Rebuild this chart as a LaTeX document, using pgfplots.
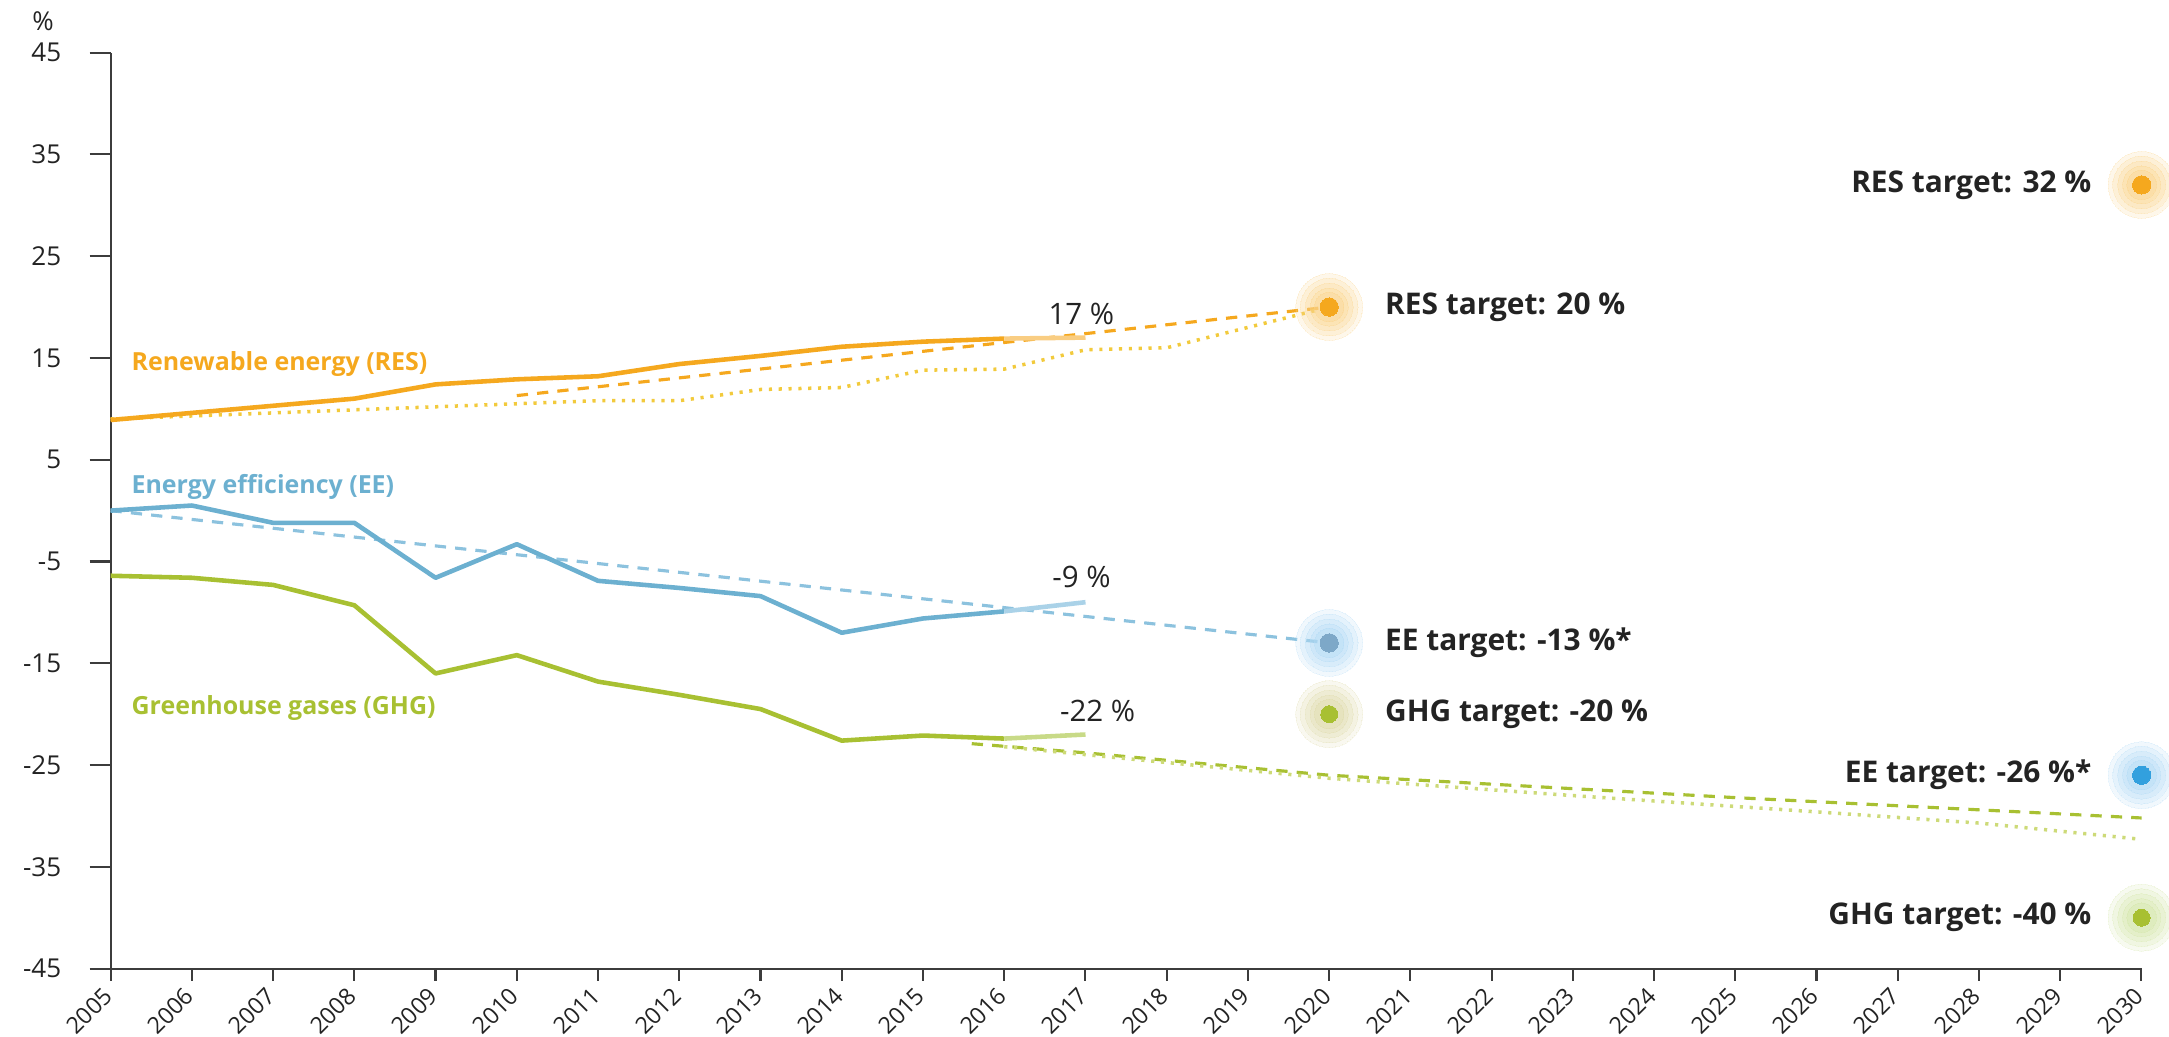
\documentclass[border=0pt]{standalone}
\usepackage{pgfplots}
\pgfplotsset{compat=1.18}
\usepackage{fontspec}
\setmainfont{Open Sans}

% series colours
\definecolor{resc}{RGB}{245,168,30}
\definecolor{resdot}{RGB}{242,202,60}
\definecolor{resproxy}{RGB}{249,205,130}
\definecolor{resglow}{RGB}{250,212,140}
\definecolor{eec}{RGB}{108,176,208}
\definecolor{eedash}{RGB}{140,194,222}
\definecolor{eeproxy}{RGB}{170,210,232}
\definecolor{eedot2020}{RGB}{125,168,200}
\definecolor{eedot2030}{RGB}{50,160,222}
\definecolor{eeglow}{RGB}{178,218,245}
\definecolor{ghgc}{RGB}{168,192,50}
\definecolor{ghgdot}{RGB}{205,218,120}
\definecolor{ghgproxy}{RGB}{200,218,135}
\definecolor{ghgglow}{RGB}{222,218,170}
\definecolor{ghgglow2}{RGB}{212,230,170}
\definecolor{axisgrey}{RGB}{60,60,60}
\definecolor{txt}{RGB}{35,35,35}

\pgfplotsset{
  glow/.style={only marks, mark=*, forget plot, color=#1,
    mark options={line width=0pt}},
}

\newcommand{\tickfont}{\fontsize{7.4}{8}\selectfont}
\newcommand{\yearfont}{\fontsize{6.6}{7}\selectfont}
\newcommand{\lblfont}{\fontsize{7.1}{8}\selectfont\bfseries}
\newcommand{\valfont}{\fontsize{8.4}{9}\selectfont}
\newcommand{\tgtfont}{\fontsize{8.5}{9}\selectfont\bfseries}

\begin{document}
\begin{tikzpicture}
\begin{axis}[
  scale only axis,
  width=203.1mm, height=91.6mm,
  xmin=2005, xmax=2030, ymin=-45, ymax=45,
  axis x line*=bottom, axis y line*=left,
  axis line style={draw=axisgrey, line width=0.6pt, -},
  xtick={2005,...,2030},
  ytick={-45,-35,...,45},
  tick align=outside,
  major tick length=2.1mm,
  tick style={draw=axisgrey, line width=0.6pt},
  xtick style={/pgfplots/major tick length=1.2mm},
  x tick label style={rotate=45, anchor=east, font=\yearfont, text=txt, inner sep=0.8pt},
  y tick label style={font=\tickfont, text=txt, xshift=-1.6mm},
  /pgf/number format/1000 sep={},
  /pgf/number format/assume math mode=true,
  clip=false,
]

% indicative trajectories
\addplot[resc, line width=0.9pt, dash pattern=on 3.2pt off 2.6pt]
  coordinates {(2010,11.3) (2020,20)};
\addplot[resdot, line width=1pt, dash pattern=on 0.9pt off 1.9pt]
  coordinates {(2005,9.0) (2008,9.9) (2010,10.5) (2011,10.8) (2012,10.8)
               (2013,11.9) (2014,12.1) (2015,13.8) (2016,13.9) (2017,15.8)
               (2018,16.0) (2020,20)};
\addplot[eedash, line width=0.9pt, dash pattern=on 3.2pt off 2.6pt]
  coordinates {(2005,0) (2020,-13)};
\addplot[ghgc, line width=0.9pt, dash pattern=on 3.2pt off 2.6pt]
  coordinates {(2015.6,-22.9) (2017,-23.8) (2020,-26.0) (2025,-28.2) (2030,-30.2)};
\addplot[ghgdot, line width=1pt, dash pattern=on 0.9pt off 1.9pt]
  coordinates {(2016,-23.2) (2020,-26.3) (2023,-28.0) (2026,-29.6) (2028,-30.7) (2030,-32.3)};

% observed values
\addplot[resc, line width=1.3pt, line join=round]
  coordinates {(2005,8.9) (2006,9.6) (2007,10.3) (2008,11.0) (2009,12.4) (2010,12.9)
               (2011,13.2) (2012,14.4) (2013,15.2) (2014,16.1) (2015,16.6) (2016,16.9)};
\addplot[resproxy, line width=1.3pt] coordinates {(2016,16.9) (2017,17)};
\addplot[eec, line width=1.3pt, line join=round]
  coordinates {(2005,0) (2006,0.5) (2007,-1.2) (2008,-1.2) (2009,-6.6) (2010,-3.3)
               (2011,-6.9) (2012,-7.6) (2013,-8.4) (2014,-12.0) (2015,-10.6) (2016,-9.9)};
\addplot[eeproxy, line width=1.3pt] coordinates {(2016,-9.9) (2017,-9)};
\addplot[ghgc, line width=1.3pt, line join=round]
  coordinates {(2005,-6.4) (2006,-6.6) (2007,-7.3) (2008,-9.3) (2009,-16.0) (2010,-14.2)
               (2011,-16.8) (2012,-18.1) (2013,-19.5) (2014,-22.6) (2015,-22.1) (2016,-22.4)};
\addplot[ghgproxy, line width=1.3pt] coordinates {(2016,-22.4) (2017,-22)};

% targets: soft halo built from stacked translucent discs, then the dot
\addplot[glow=resglow, mark size=9.5pt, opacity=0.18] coordinates {(2020,20) (2030,32)};
\addplot[glow=resglow, mark size=8.2pt, opacity=0.2] coordinates {(2020,20) (2030,32)};
\addplot[glow=resglow, mark size=6.8pt, opacity=0.24] coordinates {(2020,20) (2030,32)};
\addplot[glow=resglow, mark size=5.4pt, opacity=0.28] coordinates {(2020,20) (2030,32)};
\addplot[glow=resglow, mark size=4.2pt, opacity=0.34] coordinates {(2020,20) (2030,32)};
\addplot[glow=resc, mark size=2.6pt] coordinates {(2020,20) (2030,32)};

\addplot[glow=eeglow, mark size=9.5pt, opacity=0.18] coordinates {(2020,-13) (2030,-26)};
\addplot[glow=eeglow, mark size=8.2pt, opacity=0.2] coordinates {(2020,-13) (2030,-26)};
\addplot[glow=eeglow, mark size=6.8pt, opacity=0.24] coordinates {(2020,-13) (2030,-26)};
\addplot[glow=eeglow, mark size=5.4pt, opacity=0.28] coordinates {(2020,-13) (2030,-26)};
\addplot[glow=eeglow, mark size=4.2pt, opacity=0.34] coordinates {(2020,-13) (2030,-26)};
\addplot[glow=eedot2020, mark size=2.6pt] coordinates {(2020,-13)};
\addplot[glow=eedot2030, mark size=2.6pt] coordinates {(2030,-26)};

\addplot[glow=ghgglow, mark size=9.5pt, opacity=0.18] coordinates {(2020,-20)};
\addplot[glow=ghgglow, mark size=8.2pt, opacity=0.2] coordinates {(2020,-20)};
\addplot[glow=ghgglow, mark size=6.8pt, opacity=0.24] coordinates {(2020,-20)};
\addplot[glow=ghgglow, mark size=5.4pt, opacity=0.28] coordinates {(2020,-20)};
\addplot[glow=ghgglow, mark size=4.2pt, opacity=0.34] coordinates {(2020,-20)};
\addplot[glow=ghgglow2, mark size=9.5pt, opacity=0.18] coordinates {(2030,-40)};
\addplot[glow=ghgglow2, mark size=8.2pt, opacity=0.2] coordinates {(2030,-40)};
\addplot[glow=ghgglow2, mark size=6.8pt, opacity=0.24] coordinates {(2030,-40)};
\addplot[glow=ghgglow2, mark size=5.4pt, opacity=0.28] coordinates {(2030,-40)};
\addplot[glow=ghgglow2, mark size=4.2pt, opacity=0.34] coordinates {(2030,-40)};
\addplot[glow=ghgc, mark size=2.4pt] coordinates {(2020,-20) (2030,-40)};

% unit
\node[font=\tickfont, text=txt] at (axis cs:2004.17,48.1) {\%};

% series names
\node[anchor=west, inner sep=0pt, font=\lblfont, text=resc] at (axis cs:2005.25,14.4) {Renewable energy (RES)};
\node[anchor=west, inner sep=0pt, font=\lblfont, text=eec] at (axis cs:2005.25,2.3) {Energy efficiency (EE)};
\node[anchor=west, inner sep=0pt, font=\lblfont, text=ghgc] at (axis cs:2005.25,-19.4) {Greenhouse gases (GHG)};

% latest values
\node[font=\valfont, text=txt] at (axis cs:2016.95,19.3) {17~\%};
\node[font=\valfont, text=txt] at (axis cs:2016.95,-6.5) {-9~\%};
\node[font=\valfont, text=txt] at (axis cs:2017.15,-19.7) {-22~\%};

% target labels
\node[anchor=west, inner sep=0pt, font=\tgtfont, text=txt] at (axis cs:2020.68,20) {RES target: 20~\%};
\node[anchor=west, inner sep=0pt, font=\tgtfont, text=txt] at (axis cs:2020.68,-13) {EE target: -13~\%*};
\node[anchor=west, inner sep=0pt, font=\tgtfont, text=txt] at (axis cs:2020.68,-20) {GHG target: -20~\%};
\node[anchor=east, inner sep=0pt, font=\tgtfont, text=txt] at (axis cs:2029.39,32) {RES target: 32~\%};
\node[anchor=east, inner sep=0pt, font=\tgtfont, text=txt] at (axis cs:2029.39,-26) {EE target: -26~\%*};
\node[anchor=east, inner sep=0pt, font=\tgtfont, text=txt] at (axis cs:2029.39,-40) {GHG target: -40~\%};

\end{axis}
\pgfresetboundingbox
\useasboundingbox (-11.06mm,-6.8mm) rectangle (205.84mm,96.86mm);
\end{tikzpicture}
\end{document}
